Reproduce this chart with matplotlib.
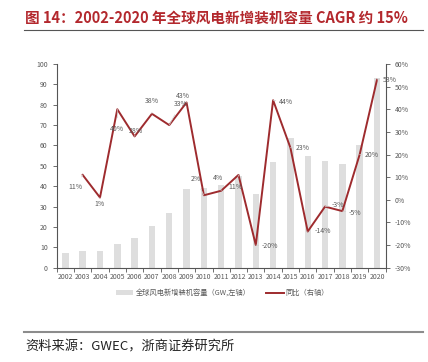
import matplotlib
matplotlib.use("Agg")
import matplotlib.pyplot as plt
from matplotlib.ticker import FixedLocator

plt.rcParams['font.family'] = ['Noto Sans CJK SC', 'DejaVu Sans']

years = [str(y) for y in range(2002, 2021)]
capacity = [7.3, 8.1, 8.2, 11.5, 14.7, 20.3, 26.9, 38.5, 39.1, 40.6,
            45.0, 36.0, 51.7, 63.8, 54.9, 52.6, 50.7, 60.4, 93.0]
growth = [11, 1, 40, 28, 38, 33, 43, 2, 4, 11, -20, 44, 23, -14, -3, -5, 20, 53]

# label offsets in points (dx, dy) relative to each growth point
label_offsets = [(-5, -9), (0, -5), (0, -14), (1, 4), (0, 9), (8, 15), (-3, 5),
                 (-6, 12), (-2, 9), (-2, -9), (10, -1), (9, -1), (9, 0),
                 (11, 0), (9, 1), (9, -1), (9, 0), (9, 0)]

dark_red = '#9e2b2e'
gray_txt = '#595959'

fig = plt.figure(figsize=(4.28, 3.62), dpi=100)
ax = fig.add_axes([0.1325, 0.2605, 0.7685, 0.5627])
x = list(range(len(years)))
ax.bar(x, capacity, width=0.37, color='#dedede', label='全球风电新增装机容量（GW,左轴）', zorder=1)
ax.set_xlim(-0.5, len(years) - 0.5)
ax.set_ylim(0, 100)
ax.set_yticks(range(0, 101, 10))
ax.set_xticks(x)
ax.set_xticklabels(years)
ax.xaxis.set_minor_locator(FixedLocator([i + 0.5 for i in range(-1, len(years))]))
ax.tick_params(axis='x', which='major', length=0, labelsize=5, colors=gray_txt, pad=4)
ax.tick_params(axis='x', which='minor', length=3, color='#555555', width=0.6)
ax.tick_params(axis='y', labelsize=5, colors=gray_txt, length=3, width=0.6)
ax.tick_params(axis='y', color='#555555')
for s in ['top', 'right']:
    ax.spines[s].set_visible(False)
for s in ['left', 'bottom']:
    ax.spines[s].set_color('#555555')
    ax.spines[s].set_linewidth(0.8)

ax2 = ax.twinx()
gx = x[1:]
ax2.plot(gx, growth, color=dark_red, lw=1.4, label='同比（右轴）', zorder=3)
ax2.set_ylim(-30, 60)
ax2.set_yticks(range(-30, 61, 10))
ax2.set_yticklabels([f'{v}%' for v in range(-30, 61, 10)])
ax2.tick_params(axis='y', labelsize=5, colors=gray_txt, length=3, width=0.6, color='#555555')
for s in ['top', 'left', 'bottom']:
    ax2.spines[s].set_visible(False)
ax2.spines['right'].set_color('#555555')
ax2.spines['right'].set_linewidth(0.8)

for xi, v, (dx, dy) in zip(gx, growth, label_offsets):
    ax2.annotate(f'{v}%', xy=(xi, v), xytext=(dx, dy), textcoords='offset points',
                 ha='center', va='center', fontsize=5, color=gray_txt,
                 arrowprops=dict(arrowstyle='-', color='#d0d0d0', lw=0.5,
                                 shrinkA=3, shrinkB=0))

h1, l1 = ax.get_legend_handles_labels()
h2, l2 = ax2.get_legend_handles_labels()
fig.legend(h1 + h2, l1 + l2, loc='center', bbox_to_anchor=(0.52, 1 - 293 / 362),
           ncol=2, frameon=False, fontsize=5.2, handlelength=2.4, handleheight=0.6,
           handletextpad=0.3, columnspacing=2.2, labelcolor=gray_txt)

fig.text(25 / 428, 1 - 18 / 362, '图 14：2002-2020 年全球风电新增装机容量 CAGR 约 15%',
         fontsize=10.5, fontweight='bold', color='#b3282d', ha='left', va='center')
fig.add_artist(plt.Line2D([24 / 428, 423 / 428], [1 - 29.5 / 362] * 2,
                          color='#555555', lw=0.8))
fig.add_artist(plt.Line2D([24 / 428, 423 / 428], [1 - 331.5 / 362] * 2,
                          color='#8c8c8c', lw=1.5))
fig.text(25 / 428, 1 - 347 / 362, '资料来源：GWEC，浙商证券研究所',
         fontsize=9.5, color='#222222', ha='left', va='center')

fig.savefig('out.png', dpi=100)
